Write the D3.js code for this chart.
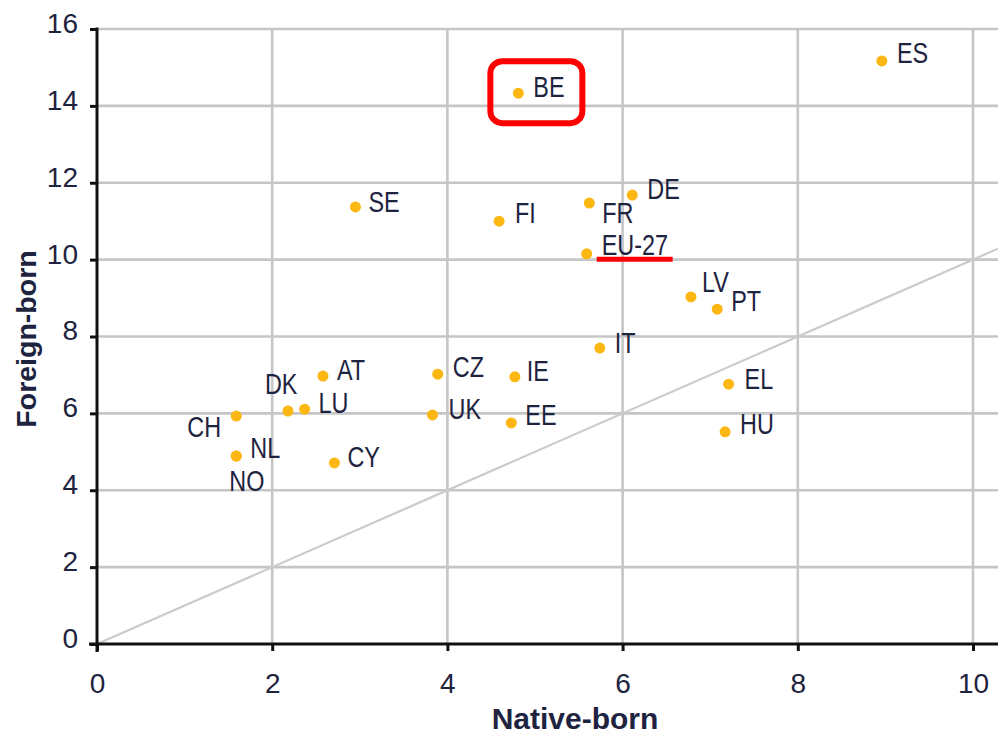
<!DOCTYPE html>
<html>
<head>
<meta charset="utf-8">
<script src="https://cdn.jsdelivr.net/npm/d3@7"></script>
<style>
  html, body { margin: 0; padding: 0; background: #fff; }
  svg { display: block; font-family: "Liberation Sans", Arial, sans-serif; }
</style>
</head>
<body>
<svg id="chart" width="998" height="734"></svg>
<script>
// ---- data ----
const countries   = ["BE","ES","SE","FI","FR","DE","EU-27","LV","PT","IT","CZ","IE","UK","EE","EL","HU","AT","DK","LU","CH","NL","NO","CY"];
const nativeBorn  = [4.81, 8.96, 2.95, 4.59, 5.62, 6.11, 5.59, 6.78, 7.08, 5.74, 3.89, 4.77, 3.83, 4.73, 7.21, 7.17, 2.58, 2.18, 2.37, 1.59, 1.59, 1.59, 2.71];
const foreignBorn = [14.33, 15.17, 11.37, 11.0, 11.47, 11.68, 10.15, 9.03, 8.71, 7.7, 7.02, 6.95, 5.96, 5.75, 6.76, 5.52, 6.97, 6.06, 6.11, 5.93, 4.89, 4.89, 4.71];
const xTicks = [0, 2, 4, 6, 8, 10];
const yTicks = [0, 2, 4, 6, 8, 10, 12, 14, 16];
const xTitle = "Native-born";
const yTitle = "Foreign-born";
const highlighted = "BE";
const underlined = "EU-27";

// label placement (offset from point, px)
const labelOffsets = {
  "BE":[15,4], "ES":[15,2], "SE":[13,5], "FI":[16,2], "FR":[13,20], "DE":[15,4],
  "EU-27":[15,1], "LV":[11,-5], "PT":[14,2], "IT":[15,5], "CZ":[15,3], "IE":[12,4],
  "UK":[16,4], "EE":[14,2], "EL":[16,5], "HU":[15,2], "AT":[14,4], "DK":[-23,-17],
  "LU":[14,4], "CH":[-49,21], "NL":[14,2], "NO":[-7,35], "CY":[13,4]
};

const W = 998, H = 734;
const mLeft = 97, mBottom = 644, mTop = 29;
const xScale = d3.scaleLinear().domain([0, 10]).range([mLeft, 973]);
const xMax = xScale.invert(W);
const yScale = d3.scaleLinear().domain([0, 16]).range([mBottom, mTop]);

const svg = d3.select("#chart");
const gridColor = "#c6c6c6";
const textColor = "#1e2340";

// gridlines
svg.append("g").selectAll("line").data(yTicks.filter(d => d > 0)).join("line")
  .attr("x1", mLeft).attr("x2", W)
  .attr("y1", d => yScale(d)).attr("y2", d => yScale(d))
  .attr("stroke", gridColor).attr("stroke-width", 2.6);
svg.append("g").selectAll("line").data(xTicks.filter(d => d > 0)).join("line")
  .attr("x1", d => xScale(d)).attr("x2", d => xScale(d))
  .attr("y1", yScale(16)).attr("y2", mBottom)
  .attr("stroke", gridColor).attr("stroke-width", 2.6);

// diagonal 45° line
svg.append("line")
  .attr("x1", xScale(0)).attr("y1", yScale(0))
  .attr("x2", xScale(xMax)).attr("y2", yScale(xMax))
  .attr("stroke", "#cbcbcb").attr("stroke-width", 2.2);

// axes
const yAxis = d3.axisLeft(yScale).tickValues(yTicks).tickSize(7).tickSizeOuter(0).tickPadding(12);
const gy = svg.append("g").attr("transform", `translate(${mLeft},0)`).call(yAxis);
gy.select(".domain").remove();
gy.selectAll(".tick line").attr("stroke", "#111").attr("stroke-width", 3);
gy.selectAll(".tick text").attr("font-size", 28).attr("fill", textColor)
  .attr("font-family", "Liberation Sans, Arial, sans-serif").attr("dy", "0.12em");

const xAxis = d3.axisBottom(d3.scaleLinear().domain([0, xMax]).range([mLeft, W]))
  .tickValues(xTicks).tickSize(7).tickSizeOuter(0).tickPadding(22);
const gx = svg.append("g").attr("transform", `translate(0,${mBottom})`).call(xAxis);
gx.select(".domain").remove();
gx.selectAll(".tick line").attr("stroke", "#111").attr("stroke-width", 3);
gx.selectAll(".tick text").attr("font-size", 28).attr("fill", textColor)
  .attr("font-family", "Liberation Sans, Arial, sans-serif");

// axis lines
svg.append("line").attr("x1", mLeft).attr("x2", mLeft).attr("y1", yScale(16) - 1.5).attr("y2", mBottom + 8)
  .attr("stroke", "#111").attr("stroke-width", 3);
svg.append("line").attr("x1", mLeft - 8).attr("x2", W).attr("y1", mBottom).attr("y2", mBottom)
  .attr("stroke", "#111").attr("stroke-width", 3);

// axis titles
svg.append("text").attr("transform", `translate(${mLeft + 478},729)`)
  .attr("text-anchor", "middle").attr("font-weight", "bold").attr("font-size", 30)
  .attr("fill", textColor).text(xTitle);
svg.append("text").attr("transform", `translate(36,339) rotate(-90)`)
  .attr("text-anchor", "middle").attr("font-weight", "bold").attr("font-size", 28.5)
  .attr("fill", textColor).text(yTitle);

// points
const data = countries.map((c, i) => ({ c, x: nativeBorn[i], y: foreignBorn[i] }));
svg.append("g").selectAll("circle").data(data).join("circle")
  .attr("cx", d => xScale(d.x)).attr("cy", d => yScale(d.y)).attr("r", 5.5)
  .attr("fill", "#fcb712");

// labels
svg.append("g").selectAll("text").data(data).join("text")
  .attr("transform", d => {
    const o = labelOffsets[d.c];
    return `translate(${xScale(d.x) + o[0]},${yScale(d.y) + o[1]}) scale(0.78,1)`;
  })
  .attr("font-size", 30).attr("fill", textColor).text(d => d.c);

// highlight annotations
const hb = data.find(d => d.c === highlighted);
svg.append("rect")
  .attr("x", xScale(hb.x) - 28).attr("y", yScale(hb.y) - 32)
  .attr("width", 92).attr("height", 62).attr("rx", 12)
  .attr("fill", "none").attr("stroke", "#ff0000").attr("stroke-width", 6);
const ue = data.find(d => d.c === underlined);
svg.append("line")
  .attr("x1", xScale(ue.x) + 10).attr("x2", xScale(ue.x) + 86)
  .attr("y1", yScale(ue.y) + 5.5).attr("y2", yScale(ue.y) + 5.5)
  .attr("stroke", "#ff0000").attr("stroke-width", 5);
</script>
</body>
</html>
